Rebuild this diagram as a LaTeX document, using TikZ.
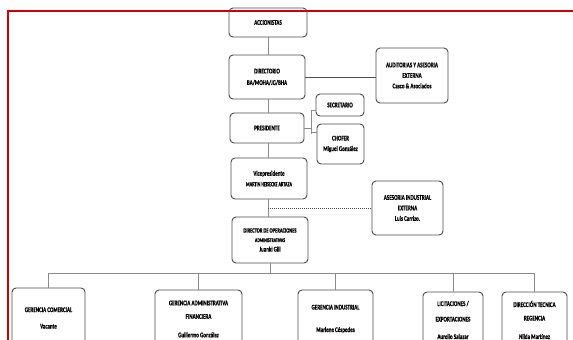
\documentclass[tikz,border=0pt]{standalone}
\usepackage{fontspec}
\setmainfont[FakeStretch=0.7,BoldFeatures={FakeBold=0.6}]{Carlito}
\newfontfamily\narrowfont[FakeStretch=0.66,FakeBold=0.5]{Carlito}
\definecolor{redline}{HTML}{CC0000}
\definecolor{boxline}{HTML}{4A4A4A}
\definecolor{conn}{HTML}{8A8A8A}
\tikzset{
  orgbox/.style={draw=boxline, line width=0.9pt, rounded corners=4pt, fill=white,
    inner sep=0pt, align=center, font=\fontsize{7.2}{10.5}\selectfont\bfseries, text=black},
  link/.style={draw=conn, line width=0.7pt},
  dotlink/.style={draw=black!70, line width=0.9pt, dash pattern=on 1.2pt off 0.8pt},
  redbar/.style={draw=redline, line width=2pt}
}
\newcommand{\orgbox}[6]{%
  \node[orgbox, minimum width={(#4-#2)*1pt}, minimum height={(#5-#3)*1pt}]
    (#1) at ({(#2+#4)/2},{-(#3+#5)/2}) {#6};}
\begin{document}
\begin{tikzpicture}[x=1pt,y=1pt]
\useasboundingbox (0,0) rectangle (573,-340);
\clip (0,0) rectangle (573,-340);
\fill[white] (0,0) rectangle (573,-340);
% boxes
\orgbox{acc}{229}{8}{307}{37}{ACCIONISTAS}
\orgbox{dir}{229}{55}{305}{99}{DIRECTORIO\\[1pt]BA/MOHA/JG/BHA}
\orgbox{aud}{376}{48}{448}{103}{AUDITORIAS Y ASESORIA\\EXTERNA\\Casco \& Asociados}
\orgbox{sec}{316}{94}{364}{116}{SECRETARIO}
\orgbox{pres}{230}{113}{304}{143}{PRESIDENTE}
\orgbox{cho}{317}{124}{364}{164}{CHOFER\\Miguel González}
\orgbox{vice}{231}{158}{307}{199}{Vicepresidente\\{\narrowfont\fontsize{6.3}{7}\selectfont MARTIN HEISECKE ARTAZA}}
\orgbox{ase}{372}{181}{443}{235}{ASESORIA INDUSTRIAL\\EXTERNA\\Luis Carrizo.}
\orgbox{dop}{232}{217}{308}{263}{{\fontsize{6.5}{8}\selectfont DIRECTOR DE OPERACIONES}\\[-1pt]{\narrowfont\fontsize{5.9}{8}\selectfont ADMINISTRATIVAS}\\[-1pt]Juanki Gill}
\orgbox{gc}{12}{288}{85}{348}{GERENCIA COMERCIAL\\[6pt]Vacante}
\orgbox{ga}{155}{290}{242}{348}{GERENCIA ADMINISTRATIVA\\[3pt]FINANCIERA\\[8pt]Guillermo González}
\orgbox{gi}{298}{290}{373}{348}{GERENCIA INDUSTRIAL\\[12pt]Marlene Céspedes}
\orgbox{lic}{423}{292}{483}{348}{LICITACIONES /\\[5pt]EXPORTACIONES\\[7pt]Aurelio Salazar}
\orgbox{dt}{502}{292}{567}{348}{DIRECCIÓN TECNICA\\[3pt]REGENCIA\\[8pt]Nilda Martínez}
% spine
\draw[link] (acc.south) -- (acc.south |- dir.north);
\draw[link] (acc.south |- dir.south) -- (acc.south |- pres.north);
\draw[link] (acc.south |- pres.south) -- (acc.south |- vice.north);
\draw[link] (acc.south |- vice.south) -- (acc.south |- dop.north);
% dotted links
\draw[dotlink] (dir.east) -- (dir.east -| aud.west);
\coordinate (dotstart) at (acc.south |- ase.west);
\draw[dotlink] (dotstart) -- (ase.west);
% president bracket
\coordinate (bk) at ([xshift=7pt]pres.east);
\draw[link] (pres.east) -- (bk);
\draw[link] ([yshift=-6pt]bk) |- ([yshift=-5pt]sec.west);
\draw[link] ([yshift=-6pt]bk) -- ([yshift=4pt]bk) -- (bk |- {0,-132}) -- ({0,-132} -| cho.west);
% bus
\coordinate (bus) at ([yshift=-10pt]dop.south);
\draw[link] (dop.south) -- (bus);
\draw[link] (gc.north |- bus) -- (dt.north |- bus);
\foreach \n in {gc,ga,gi,lic,dt} {\draw[link] (\n.north |- bus) -- (\n.north);}
% red frame
\draw[redbar] (7,-11) -- (573,-11);
\draw[redbar] (8,-10) -- (8,-341);
\end{tikzpicture}
\end{document}
